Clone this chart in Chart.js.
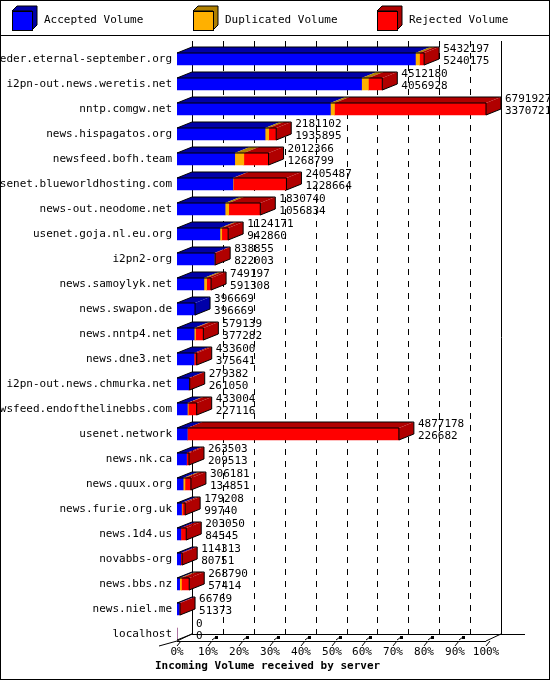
<!DOCTYPE html>
<html><head><meta charset="utf-8">
<script src="https://cdn.jsdelivr.net/npm/chart.js@4"></script>
<style>body{margin:0;background:#fff}#w{width:550px;height:680px}</style>
</head><body><div id="w"><canvas id="c"></canvas></div>
<script>
const servers=["feeder.eternal-september.org","i2pn-out.news.weretis.net","nntp.comgw.net","news.hispagatos.org","newsfeed.bofh.team","usenet.blueworldhosting.com","news-out.neodome.net","usenet.goja.nl.eu.org","i2pn2-org","news.samoylyk.net","news.swapon.de","news.nntp4.net","news.dne3.net","i2pn-out.news.chmurka.net","newsfeed.endofthelinebbs.com","usenet.network","news.nk.ca","news.quux.org","news.furie.org.uk","news.1d4.us","novabbs-org","news.bbs.nz","news.niel.me","localhost"];
const totals=[5432197,4512180,6791927,2181102,2012366,2405487,1830740,1124171,838855,749197,396669,579139,433600,279382,433004,4877178,263503,306181,179208,203050,114313,268790,66769,0];
const accepted=[5240175,4056928,3370721,1935895,1268799,1228664,1056834,942860,822003,591308,396669,377282,375641,261050,227116,226682,209513,134851,99740,84545,80751,57414,51373,0];
const duplicated=[90000,150000,90000,80000,200000,10000,80000,40000,0,60000,0,30000,0,0,20000,0,0,40000,15000,0,0,40000,0,0];
const rejected=[102022,305252,3331206,165207,543567,1166823,693906,141311,16852,97889,0,171857,57959,18332,185888,4650496,53990,131330,64468,118505,33562,171376,15396,0];
const tickLabels=["0%","10%","20%","30%","40%","50%","60%","70%","80%","90%","100%"];
const maxV=Math.max(...totals);
const DX=15,DY=6,FONT='11px "DejaVu Sans Mono", monospace';
const front=['#0000ff','#ffb000','#ff0000'],topc=['#0000a8','#b08000','#b00000'];
const plugin={id:'d3',
beforeDatasetsDraw(ch){const c=ch.ctx,a=ch.chartArea;c.save();
 c.strokeStyle='#000';c.lineWidth=1;
 c.strokeRect(0.5,0.5,549,679);
 c.beginPath();c.moveTo(0,35.5);c.lineTo(550,35.5);c.stroke();
 // legend
 const lg=[["Accepted Volume",12],["Duplicated Volume",193],["Rejected Volume",377]];
 lg.forEach((l,i)=>{const x=l[1],y=11,w=20,h=19,d=5;
  c.fillStyle=topc[i];c.beginPath();c.moveTo(x,y);c.lineTo(x+d,y-d);c.lineTo(x+w+d,y-d);c.lineTo(x+w+d,y+h-d);c.lineTo(x+w,y+h);c.lineTo(x+w,y);c.closePath();c.fill();c.stroke();
  c.fillStyle=front[i];c.fillRect(x,y,w,h);c.strokeRect(x+.5,y+.5,w,h);
  c.fillStyle='#000';c.font=FONT;c.textBaseline='middle';c.fillText(l[0],x+32,20);});
 const L=a.left,R=a.right,B=641,T=41;
 c.beginPath();c.moveTo(L+DX+.5,T);c.lineTo(L+DX+.5,B-7);c.moveTo(R+DX+.5,T);c.lineTo(R+DX+.5,B-7);
 c.moveTo(L+DX,B-7+.5);c.lineTo(525,B-7+.5);c.moveTo(L,B+.5);c.lineTo(R,B+.5);
 c.moveTo(L,B);c.lineTo(L+DX,B-7);c.moveTo(R,B);c.lineTo(R+DX,B-7);c.moveTo(L,B);c.lineTo(L-18,B+5);c.stroke();
 c.setLineDash([6,6]);
 for(let i=1;i<10;i++){const x=Math.round(L+(R-L)*i/10+DX)+.5;c.beginPath();c.moveTo(x,T);c.lineTo(x,B-7);c.stroke();}
 c.setLineDash([]);
 c.font=FONT;c.textAlign='center';c.textBaseline='middle';
 tickLabels.forEach((t,i)=>{const x=Math.round(L+(R-L)*i/10);c.beginPath();c.moveTo(x,B+5);c.lineTo(x+4,B);c.stroke();
  if(i>0&&i<10){c.fillRect(x+7,B-5,3,3);c.beginPath();c.moveTo(x+4,B-1);c.lineTo(x+8,B-4);c.stroke();}
  c.fillText(t,x,652);});
 c.font='bold 11px "DejaVu Sans Mono", monospace';c.textAlign='left';c.fillText("Incoming Volume received by server",155,666);
 c.font=FONT;c.textAlign='right';
 const ys=ch.scales.y;servers.forEach((s,i)=>c.fillText(s,172,ys.getPixelForValue(i)));
 c.restore();},
afterDatasetsDraw(ch){const c=ch.ctx;c.save();c.strokeStyle='#000';c.lineWidth=1;c.font=FONT;c.textBaseline='middle';
 const ys=ch.scales.y,xs=ch.scales.x;
 servers.forEach((s,i)=>{const y=ys.getPixelForValue(i),top=y-6,bot=y+6;let x0=xs.getPixelForValue(0);let last=-1,endX=x0;
  [accepted,duplicated,rejected].forEach((arr,k)=>{if(!arr[i])return;const e=ch.getDatasetMeta(k).data[i];const xa=e.base,xb=e.x;
   c.fillStyle=topc[k];c.beginPath();c.moveTo(xa,top);c.lineTo(xa+DX,top-DY);c.lineTo(xb+DX,top-DY);c.lineTo(xb,top);c.closePath();c.fill();last=k;endX=xb;});
  if(last>=0){c.fillStyle=topc[last];c.beginPath();c.moveTo(endX,top);c.lineTo(endX+DX,top-DY);c.lineTo(endX+DX,bot-DY);c.lineTo(endX,bot);c.closePath();c.fill();
   c.beginPath();c.moveTo(x0,top);c.lineTo(x0+DX,top-DY);c.lineTo(endX+DX,top-DY);c.lineTo(endX+DX,bot-DY);c.lineTo(endX,bot);c.lineTo(endX,top);c.lineTo(x0,top);c.stroke();}
  else{c.beginPath();c.moveTo(x0,bot);c.lineTo(x0+DX,bot-DY);c.stroke();}
  const tx=endX+DX+4;c.fillStyle='#000';c.textAlign='left';
  c.fillText(String(totals[i]),tx,y-10);c.fillText(String(accepted[i]),tx,y+2);});
 c.restore();}};
new Chart(document.getElementById('c'),{type:'bar',
 data:{labels:servers,datasets:[
  {label:'Accepted Volume',data:accepted,backgroundColor:front[0]},
  {label:'Duplicated Volume',data:duplicated,backgroundColor:front[1]},
  {label:'Rejected Volume',data:rejected,backgroundColor:front[2]}]},
 options:{indexAxis:'y',responsive:true,maintainAspectRatio:false,animation:false,devicePixelRatio:1,
  layout:{padding:{left:177,right:64,top:46.5,bottom:33.5}},
  datasets:{bar:{barThickness:12,borderWidth:0,borderSkipped:false}},
  plugins:{legend:{display:false},tooltip:{enabled:false}},
  scales:{x:{stacked:true,min:0,max:maxV,display:false},y:{stacked:true,display:false}}},
 plugins:[plugin]});
</script></body></html>
